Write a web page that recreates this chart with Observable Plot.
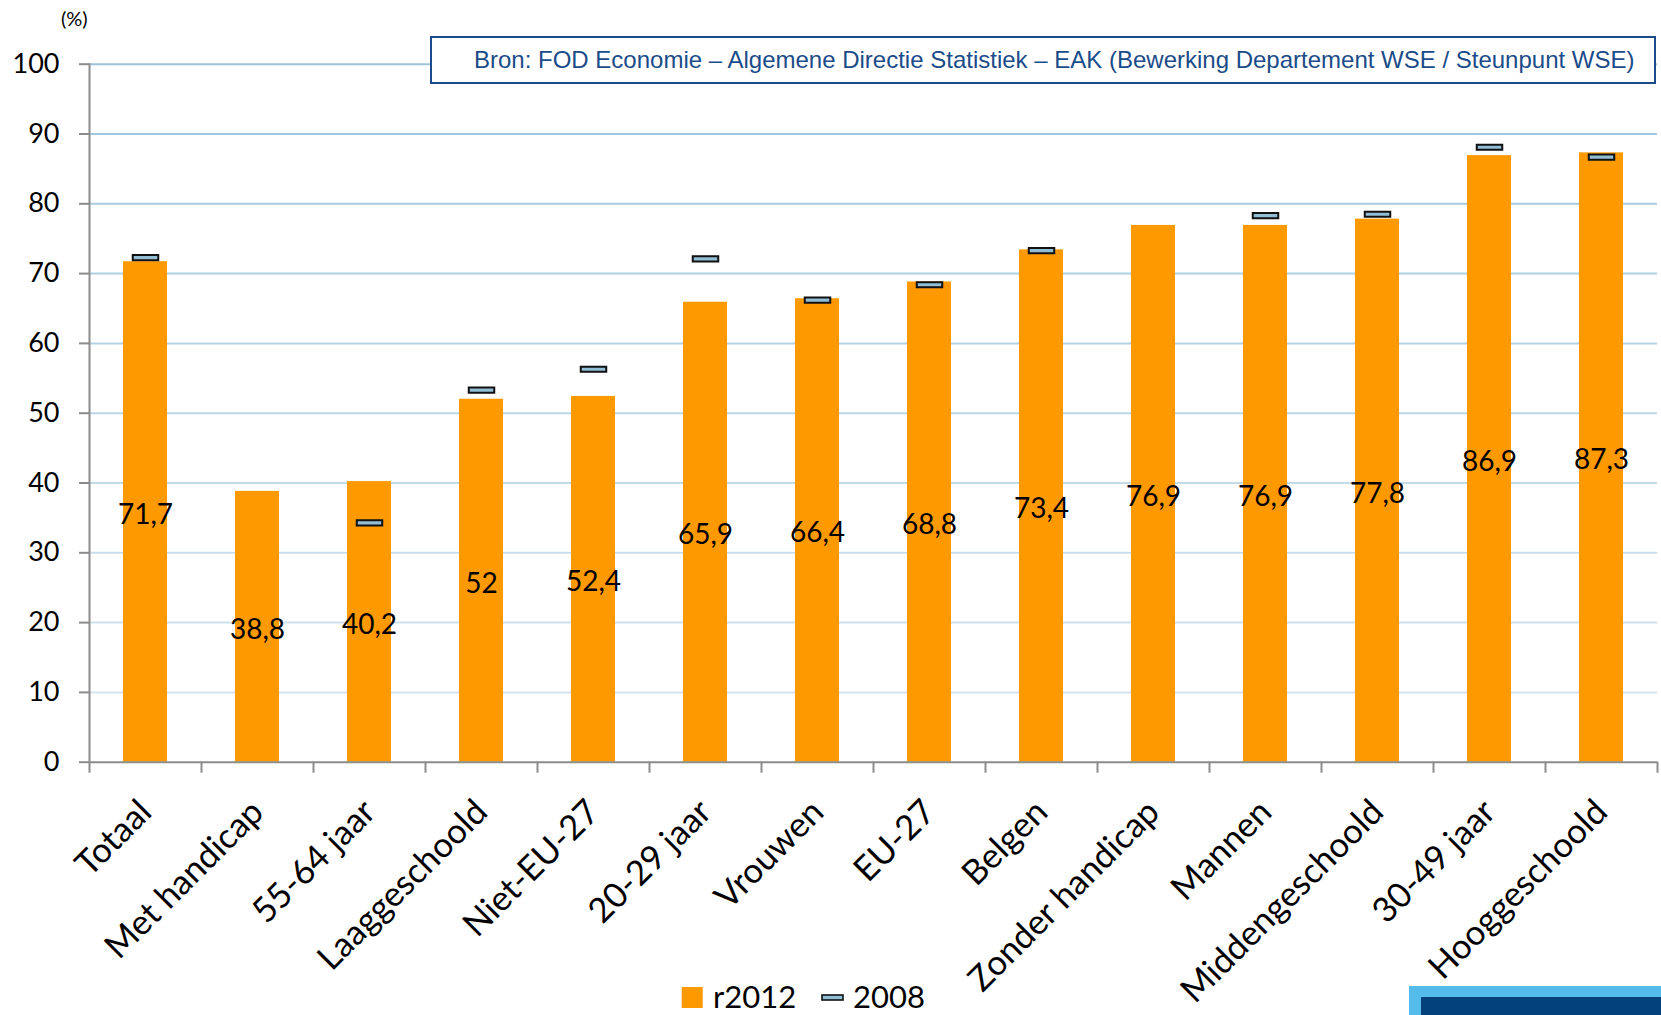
<!DOCTYPE html>
<html>
<head>
<meta charset="utf-8">
<script src="https://cdn.jsdelivr.net/npm/d3@7"></script>
<script src="https://cdn.jsdelivr.net/npm/@observablehq/plot@0.6"></script>
<style>
  html, body { margin: 0; padding: 0; background: #fff; }
  #wrap { position: relative; width: 1661px; height: 1015px; overflow: hidden; font-family: Lato, sans-serif; }
  #chart { position: absolute; left: 0; top: 0; }
  #unit { position: absolute; left: 61px; top: 6px; font-size: 20px; line-height: 24px; color: #000; }
  #source { position: absolute; left: 430px; top: 36px; width: 1226px; height: 48px; box-sizing: border-box;
            border: 2px solid #1b4c89; background: #fff; color: #1b4c89;
            font-family: "Liberation Sans", Arial, sans-serif; font-size: 24px; line-height: 44px;
            padding-left: 42px; white-space: nowrap; }
  #legend { position: absolute; left: 0; top: 945px; }
  #deco1 { position: absolute; left: 1409px; top: 986px; right: 0; bottom: 0; background: #55bbeb; }
  #deco2 { position: absolute; left: 1421px; top: 997px; right: 0; bottom: 0; background: #03417c; }
</style>
</head>
<body>
<div id="wrap">
  <div id="chart"></div>
  <div id="unit">(%)</div>
  <div id="source">Bron: FOD Economie – Algemene Directie Statistiek – EAK (Bewerking Departement WSE / Steunpunt WSE)</div>
  <svg id="legend" width="1661" height="70"></svg>
  <div id="deco1"></div>
  <div id="deco2"></div>
</div>
<script>
// ---- data ----
const categories = ["Totaal", "Met handicap", "55-64 jaar", "Laaggeschoold", "Niet-EU-27", "20-29 jaar",
  "Vrouwen", "EU-27", "Belgen", "Zonder handicap", "Mannen", "Middengeschoold", "30-49 jaar", "Hooggeschoold"];
const values2012 = [71.7, 38.8, 40.2, 52, 52.4, 65.9, 66.4, 68.8, 73.4, 76.9, 76.9, 77.8, 86.9, 87.3];
const values2008 = [72.3, null, 34.3, 53.3, 56.3, 72.1, 66.2, 68.4, 73.3, null, 78.3, 78.5, 88.1, 86.7];
const yTicks = [0, 10, 20, 30, 40, 50, 60, 70, 80, 90, 100];
const seriesNames = ["r2012", "2008"];

// ---- layout ----
const W = 1661, H = 945;
const mL = 89, mR = 4, mT = 63.7, mB = H - 761.7;
const step = (W - mL - mR) / categories.length;
const barW = 44;
const inset = (step - barW) / 2;
const orange = "#ff9900";
const markerFill = "#92bfd6";
const axisGray = "#8c8c8c";

const rows = categories.map((c, i) => ({cat: c, v2012: values2012[i], v2008: values2008[i]}));
const fmt = v => String(v).replace(".", ",");
const gridColor = d3.interpolateRgb("#dbe8f1", "#9ec4dc");

const rectSymbol = { draw(ctx) { const w = 12.75, h = 2.6; ctx.moveTo(-w, -h); ctx.lineTo(w, -h); ctx.lineTo(w, h); ctx.lineTo(-w, h); ctx.closePath(); } };

const plot = Plot.plot({
  width: W, height: H,
  marginLeft: mL, marginRight: mR, marginTop: mT, marginBottom: mB,
  style: { fontFamily: "Lato, sans-serif", background: "transparent", overflow: "visible" },
  x: { domain: categories, padding: 0, axis: null },
  y: { domain: [0, 100], axis: null },
  color: { type: "identity" },
  marks: [
    Plot.ruleY(yTicks.filter(t => t > 0), { y: d => d, stroke: d => gridColor(d / 100), strokeWidth: 2 }),
    Plot.barY(rows, { x: "cat", y: "v2012", fill: orange, insetLeft: inset, insetRight: inset }),
    Plot.dot(rows.filter(d => d.v2008 != null), { x: "cat", y: "v2008", symbol: rectSymbol, fill: markerFill, stroke: "#111", strokeWidth: 2 }),
    Plot.text(rows, { x: "cat", y: d => d.v2012 / 2, text: d => fmt(d.v2012), fontSize: 28, dy: 3, fill: "#000" }),
    Plot.frame({ anchor: "left", stroke: axisGray, strokeWidth: 2 }),
    Plot.ruleY([0], { stroke: axisGray, strokeWidth: 2 }),
    Plot.axisY({ ticks: yTicks, tickSize: 10, tickPadding: 20, fontSize: 27, stroke: axisGray, strokeWidth: 2, color: "#000", tickFormat: d => String(d), label: null }),
    Plot.ruleX(categories, { x: d => d, dx: -step / 2, y1: 0, y2: 0, insetBottom: -11, stroke: axisGray, strokeWidth: 2 }),
    Plot.ruleX(categories.slice(-1), { x: d => d, dx: step / 2, y1: 0, y2: 0, insetBottom: -11, stroke: axisGray, strokeWidth: 2 }),
    Plot.text(categories, { x: d => d, frameAnchor: "bottom", rotate: -45, textAnchor: "end", lineAnchor: "bottom", dx: 8, dy: 52, fontSize: 34.5, fill: "#000" })
  ]
});
document.getElementById("chart").appendChild(plot);

// ---- legend ----
const lg = d3.select("#legend");
lg.append("rect").attr("x", 681.7).attr("y", 42).attr("width", 21).attr("height", 21).attr("fill", orange);
lg.append("text").attr("x", 713).attr("y", 62.5).attr("font-family", "Lato, sans-serif").attr("font-size", 31).text(seriesNames[0]);
lg.append("rect").attr("x", 822).attr("y", 50).attr("width", 21).attr("height", 5).attr("fill", markerFill).attr("stroke", "#111").attr("stroke-width", 1.6);
lg.append("text").attr("x", 853).attr("y", 62.5).attr("font-family", "Lato, sans-serif").attr("font-size", 31).text(seriesNames[1]);
</script>
</body>
</html>
